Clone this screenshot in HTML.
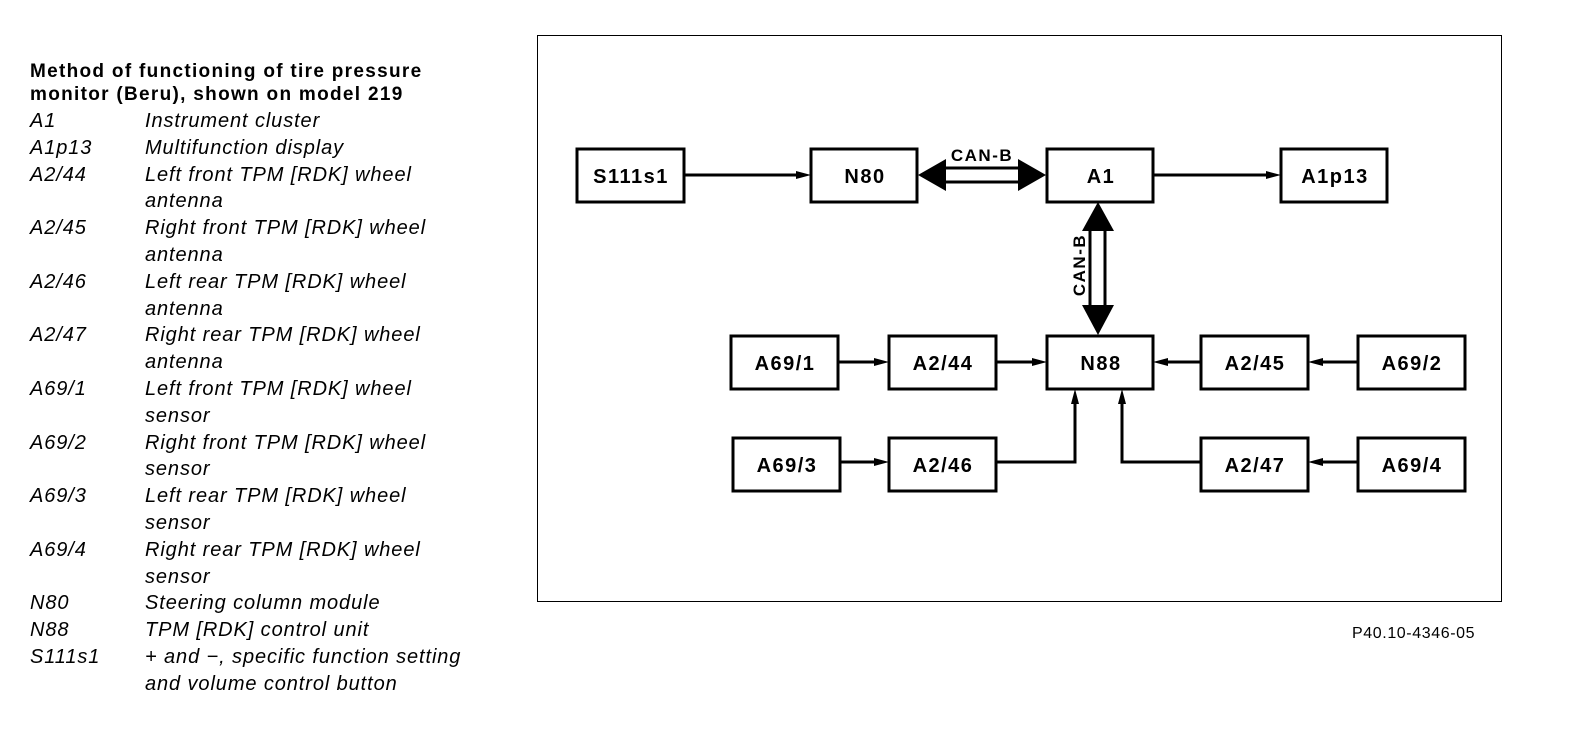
<!DOCTYPE html>
<html><head><meta charset="utf-8"><style>
body{margin:0;width:1584px;height:746px;background:#fff;position:relative;overflow:hidden;font-family:"Liberation Sans",Arial,sans-serif;color:#000}
.t{position:absolute;font-weight:bold;font-size:19px;letter-spacing:1.3px;left:30px;line-height:23px}
.l{position:absolute;left:30px;font-style:italic;font-size:20px;letter-spacing:0.9px;line-height:26.8px;white-space:nowrap}
.c{position:absolute;left:145px;font-style:italic;font-size:20px;letter-spacing:0.9px;line-height:26.8px;white-space:nowrap}
</style></head><body>
<div class="t" style="top:60px">Method of functioning of tire pressure<br>monitor (Beru), shown on model 219</div>
<div class="l" style="top:108px">A1<br>A1p13<br>A2/44<br><br>A2/45<br><br>A2/46<br><br>A2/47<br><br>A69/1<br><br>A69/2<br><br>A69/3<br><br>A69/4<br><br>N80<br>N88<br>S111s1</div>
<div class="c" style="top:108px">Instrument cluster<br>Multifunction display<br>Left front TPM [RDK] wheel<br>antenna<br>Right front TPM [RDK] wheel<br>antenna<br>Left rear TPM [RDK] wheel<br>antenna<br>Right rear TPM [RDK] wheel<br>antenna<br>Left front TPM [RDK] wheel<br>sensor<br>Right front TPM [RDK] wheel<br>sensor<br>Left rear TPM [RDK] wheel<br>sensor<br>Right rear TPM [RDK] wheel<br>sensor<br>Steering column module<br>TPM [RDK] control unit<br>+ and −, specific function setting<br>and volume control button</div>
<div style="position:absolute;left:1352px;top:625px;font-size:16px;letter-spacing:0.6px">P40.10-4346-05</div>
<svg width="1584" height="746" style="position:absolute;left:0;top:0" font-family="Liberation Sans, Arial, sans-serif" font-weight="bold" font-size="20" letter-spacing="1.5">
<rect x="537.5" y="35.5" width="964" height="566" fill="none" stroke="#000" stroke-width="1"/>
<g fill="#fff" stroke="#000" stroke-width="3">
<rect x="577" y="149" width="107" height="53"/><rect x="811" y="149" width="106" height="53"/><rect x="1047" y="149" width="106" height="53"/><rect x="1281" y="149" width="106" height="53"/>
<rect x="731" y="336" width="107" height="53"/><rect x="889" y="336" width="107" height="53"/><rect x="1047" y="336" width="106" height="53"/><rect x="1201" y="336" width="107" height="53"/><rect x="1358" y="336" width="107" height="53"/>
<rect x="733" y="438" width="107" height="53"/><rect x="889" y="438" width="107" height="53"/><rect x="1201" y="438" width="107" height="53"/><rect x="1358" y="438" width="107" height="53"/>
</g>
<g text-anchor="middle">
<text x="631" y="183">S111s1</text><text x="865" y="183">N80</text><text x="1101" y="183">A1</text><text x="1335" y="183">A1p13</text>
<text x="785" y="370">A69/1</text><text x="943" y="370">A2/44</text><text x="1101" y="370">N88</text><text x="1255" y="370">A2/45</text><text x="1412" y="370">A69/2</text>
<text x="787" y="472">A69/3</text><text x="943" y="472">A2/46</text><text x="1255" y="472">A2/47</text><text x="1412" y="472">A69/4</text>
</g>
<g stroke="#000" stroke-width="3" fill="none">
<line x1="684" y1="175" x2="800" y2="175"/><line x1="1153" y1="175" x2="1270" y2="175"/>
<line x1="838" y1="362" x2="878" y2="362"/><line x1="996" y1="362" x2="1036" y2="362"/>
<line x1="1201" y1="362" x2="1164" y2="362"/><line x1="1358" y1="362" x2="1320" y2="362"/>
<line x1="840" y1="462" x2="878" y2="462"/><line x1="1358" y1="462" x2="1320" y2="462"/>
<polyline points="996,462 1075,462 1075,400"/><polyline points="1201,462 1122,462 1122,400"/>
<line x1="944" y1="168" x2="1019" y2="168"/><line x1="944" y1="182" x2="1019" y2="182"/>
<line x1="1090" y1="229" x2="1090" y2="306"/><line x1="1105" y1="229" x2="1105" y2="306"/>
</g>
<g fill="#000">
<polygon points="811,175 796,171 796,179"/><polygon points="1281,175 1266,171 1266,179"/>
<polygon points="889,362 874,358 874,366"/><polygon points="1047,362 1032,358 1032,366"/>
<polygon points="1153,362 1168,358 1168,366"/><polygon points="1308,362 1323,358 1323,366"/>
<polygon points="889,462 874,458 874,466"/><polygon points="1308,462 1323,458 1323,466"/>
<polygon points="1075,389 1071,404 1079,404"/><polygon points="1122,389 1118,404 1126,404"/>
<polygon points="918,175 946,159 946,191"/><polygon points="1046,175 1018,159 1018,191"/>
<polygon points="1098,202 1082,231 1114,231"/><polygon points="1098,335 1082,305 1114,305"/>
</g>
<text x="982" y="161" text-anchor="middle" font-size="17">CAN-B</text>
<text transform="translate(1085,265) rotate(-90)" text-anchor="middle" font-size="17">CAN-B</text>
</svg>
</body></html>
